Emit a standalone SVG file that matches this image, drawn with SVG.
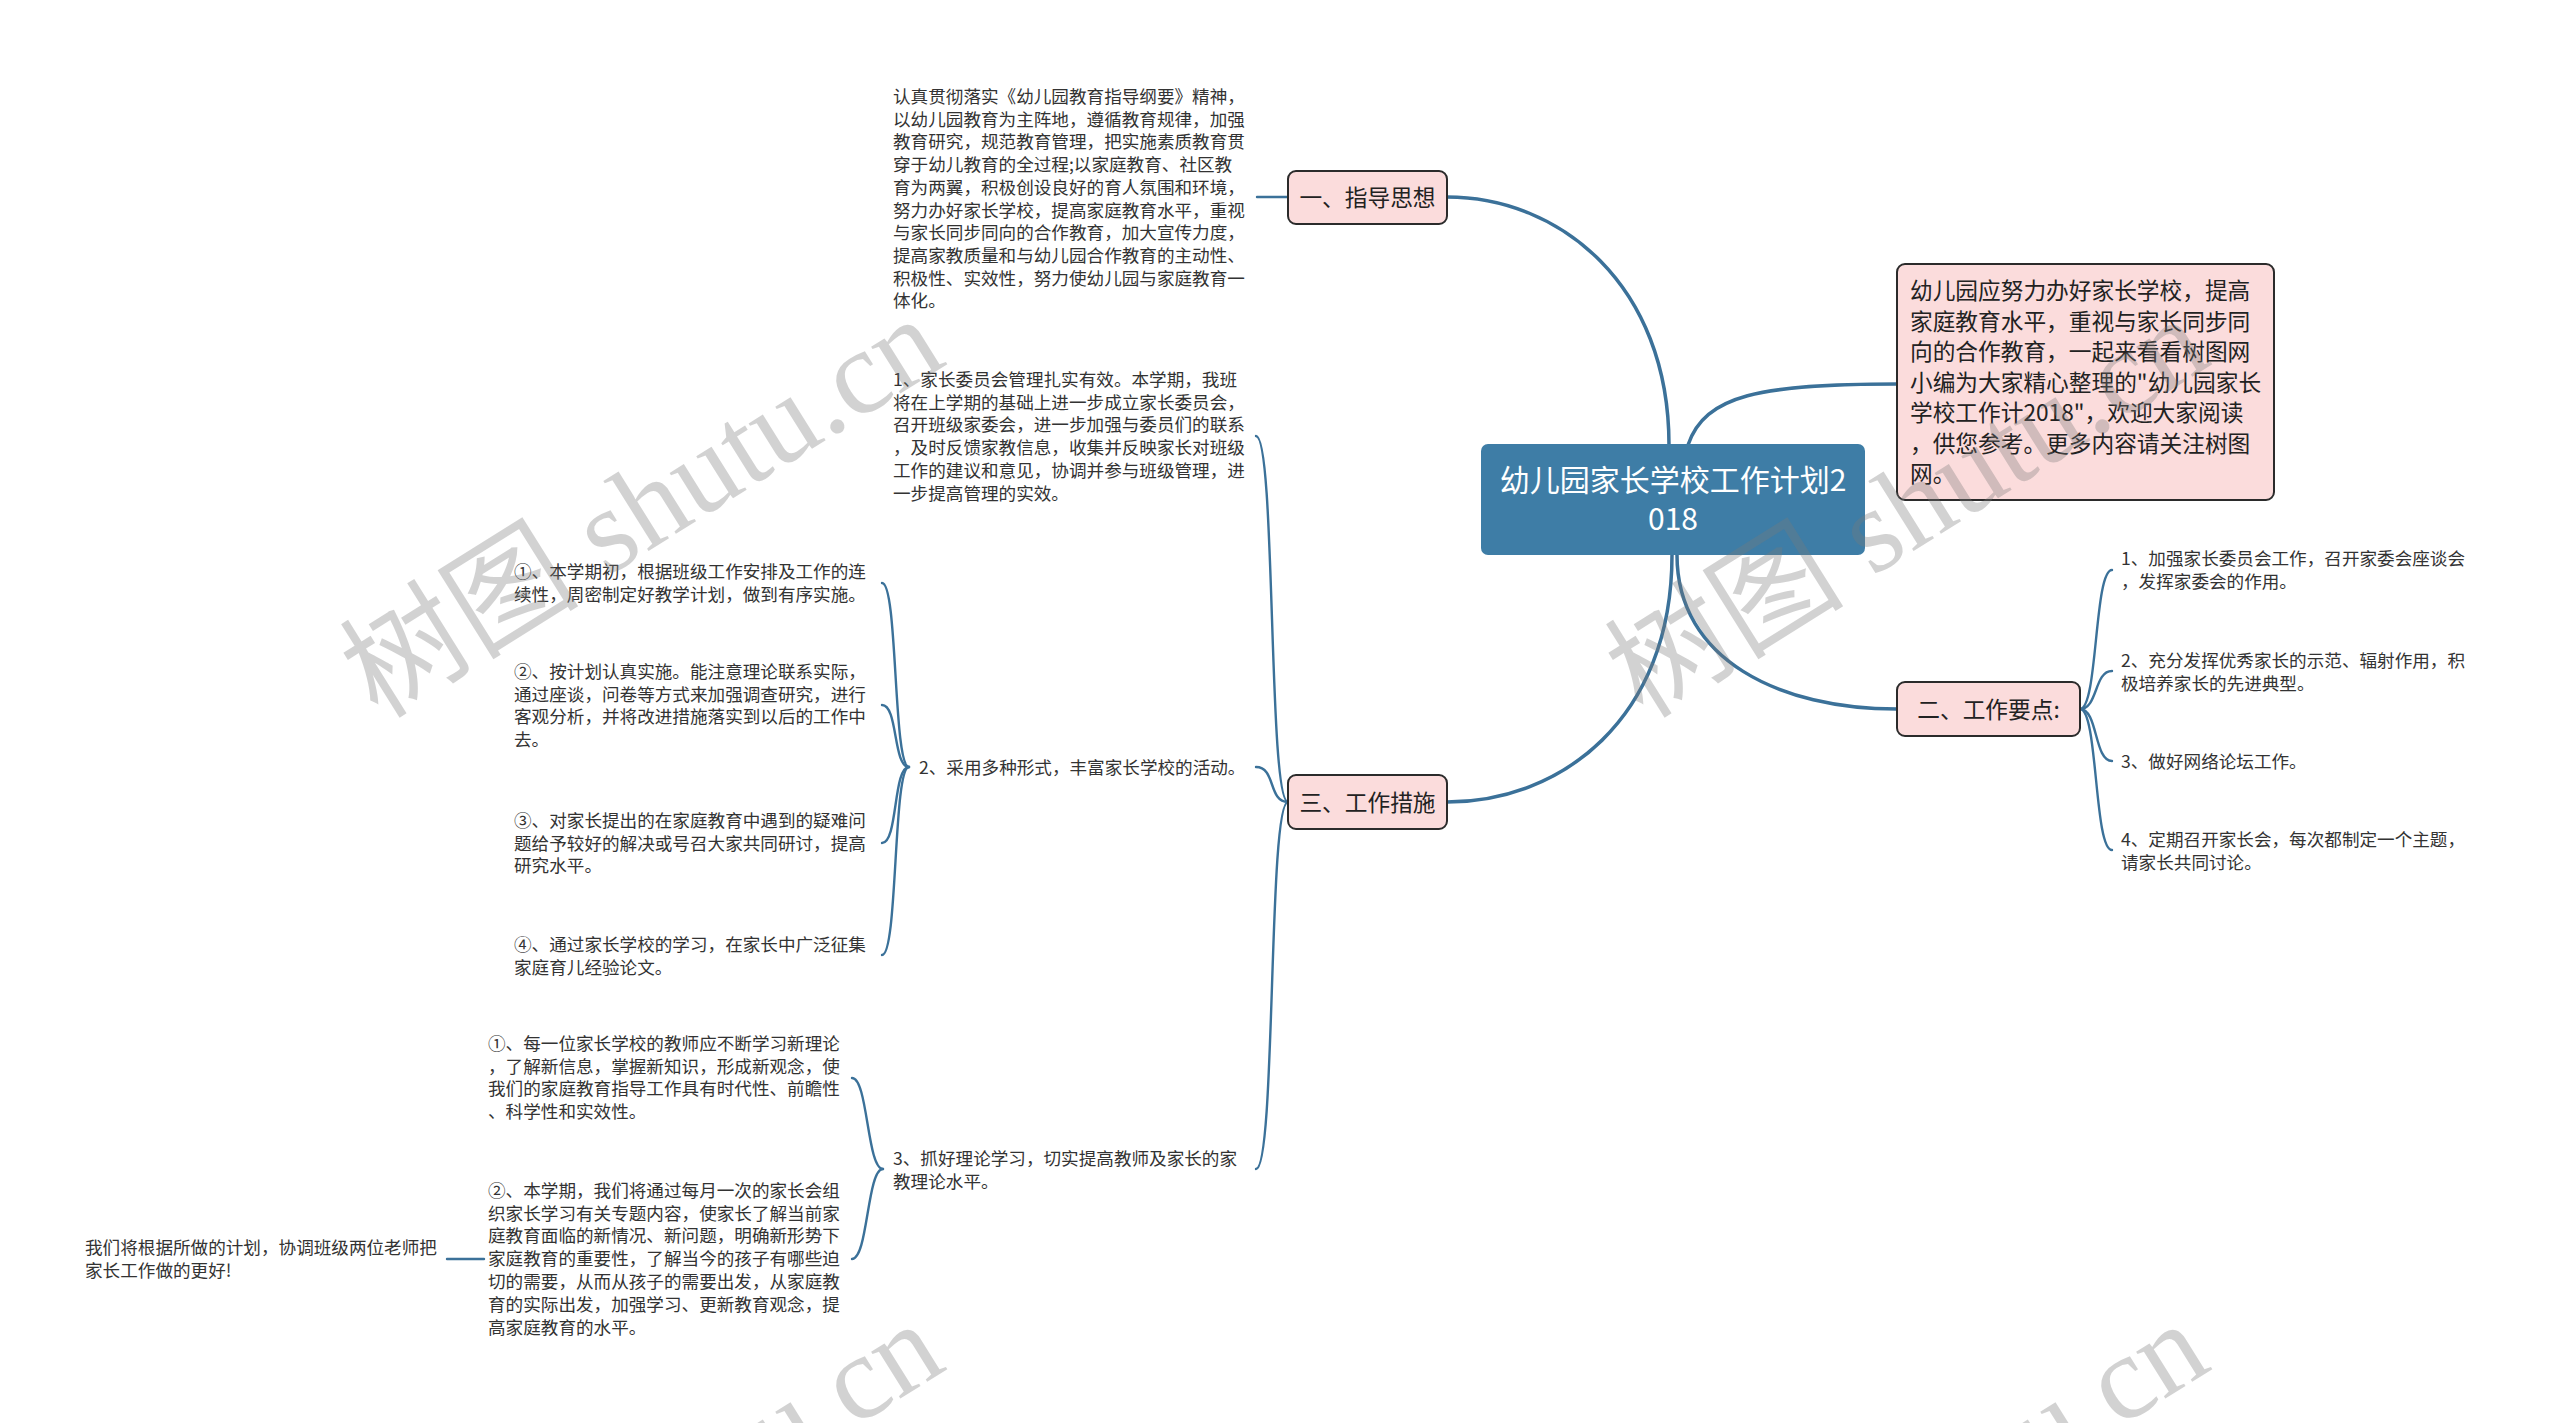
<svg xmlns="http://www.w3.org/2000/svg" width="2560" height="1423" viewBox="0 0 2560 1423">
<style>
.t{font-family:"Noto Sans CJK SC","Noto Sans",sans-serif;font-size:17.6px;fill:#333}
.lbl{font-family:"Noto Sans CJK SC","Noto Sans",sans-serif;font-size:22.7px;fill:#222}
.ctr{font-family:"Noto Sans CJK SC","Noto Sans",sans-serif;font-size:30px;fill:#fff}
.box{fill:#fbdcdc;stroke:#2b2b2b;stroke-width:2}
.main{fill:none;stroke:#3b7199;stroke-width:3.5;stroke-linecap:round}
.sub{fill:none;stroke:#3b7199;stroke-width:2.4;stroke-linecap:round}
.wm{font-size:120px;fill:#7a7a7a;opacity:0.33}
</style>
<rect width="2560" height="1423" fill="#fff"/>
<g id="connectors">
<path class="main" d="M1669 445 C1669 285 1560 197 1447 197"/>
<path class="main" d="M1688 445 C1705 395 1760 384 1897 384"/>
<path class="main" d="M1677 555 C1677 660 1780 709 1897 709"/>
<path class="main" d="M1672 555 C1672 720 1560 802 1447 802"/>
<path class="sub" d="M1288 197 L1257 197"/>
<path class="sub" d="M2080 709 C2098 709 2094 570 2112 570"/>
<path class="sub" d="M2080 709 C2098 709 2094 671 2112 671"/>
<path class="sub" d="M2080 709 C2098 709 2094 761 2112 761"/>
<path class="sub" d="M2080 709 C2098 709 2094 850 2112 850"/>
<path class="sub" d="M1288 802 C1268 802 1276 436 1256 436"/>
<path class="sub" d="M1288 802 C1268 802 1276 767 1256 767"/>
<path class="sub" d="M1288 802 C1268 802 1276 1169 1256 1169"/>
<path class="sub" d="M909 767 C893 767 898 583 882 583"/>
<path class="sub" d="M909 767 C893 767 898 705 882 705"/>
<path class="sub" d="M909 767 C893 767 898 843 882 843"/>
<path class="sub" d="M909 767 C893 767 898 955 882 955"/>
<path class="sub" d="M883 1169 C867 1169 868 1078 852 1078"/>
<path class="sub" d="M883 1169 C867 1169 868 1259 852 1259"/>
<path class="sub" d="M484 1259 L447 1259"/>
</g>
<g id="center">
<rect x="1481" y="444" width="384" height="111" rx="7" fill="#3e7da6"/>
<text class="ctr" text-anchor="middle"><tspan x="1673" y="491.4">幼儿园家长学校工作计划2</tspan><tspan x="1673" y="530.4">018</tspan></text>
</g>
<g id="intro">
<rect class="box" x="1897" y="264" width="377" height="236" rx="8"/>
<text class="lbl" x="1910" y="299.2"><tspan x="1910">幼儿园应努力办好家长学校，提高</tspan><tspan x="1910" dy="30.5">家庭教育水平，重视与家长同步同</tspan><tspan x="1910" dy="30.5">向的合作教育，一起来看看树图网</tspan><tspan x="1910" dy="30.5">小编为大家精心整理的"幼儿园家长</tspan><tspan x="1910" dy="30.5">学校工作计2018"，欢迎大家阅读</tspan><tspan x="1910" dy="30.5">，供您参考。更多内容请关注树图</tspan><tspan x="1910" dy="30.5">网。</tspan></text>
</g>
<g id="n1">
<rect class="box" x="1288" y="171" width="159" height="53" rx="8"/>
<text class="lbl" x="1367.5" y="206.1" text-anchor="middle">一、指导思想</text>
</g>
<g id="n1-text">
<text class="t" x="893" y="103"><tspan x="893">认真贯彻落实《幼儿园教育指导纲要》精神，</tspan><tspan x="893" dy="22.7">以幼儿园教育为主阵地，遵循教育规律，加强</tspan><tspan x="893" dy="22.7">教育研究，规范教育管理，把实施素质教育贯</tspan><tspan x="893" dy="22.7">穿于幼儿教育的全过程;以家庭教育、社区教</tspan><tspan x="893" dy="22.7">育为两翼，积极创设良好的育人氛围和环境，</tspan><tspan x="893" dy="22.7">努力办好家长学校，提高家庭教育水平，重视</tspan><tspan x="893" dy="22.7">与家长同步同向的合作教育，加大宣传力度，</tspan><tspan x="893" dy="22.7">提高家教质量和与幼儿园合作教育的主动性、</tspan><tspan x="893" dy="22.7">积极性、实效性，努力使幼儿园与家庭教育一</tspan><tspan x="893" dy="22.7">体化。</tspan></text>
</g>
<g id="n2">
<rect class="box" x="1897" y="682" width="183" height="54" rx="8"/>
<text class="lbl" x="1988.5" y="717.6" text-anchor="middle">二、工作要点:</text>
</g>
<g id="n2-1"><text class="t" x="2121" y="564.7"><tspan x="2121">1、加强家长委员会工作，召开家委会座谈会</tspan><tspan x="2121" dy="22.8">，发挥家委会的作用。</tspan></text></g>
<g id="n2-2"><text class="t" x="2121" y="666.7"><tspan x="2121">2、充分发挥优秀家长的示范、辐射作用，积</tspan><tspan x="2121" dy="22.8">极培养家长的先进典型。</tspan></text></g>
<g id="n2-3"><text class="t" x="2121" y="767.7">3、做好网络论坛工作。</text></g>
<g id="n2-4"><text class="t" x="2121" y="845.7"><tspan x="2121">4、定期召开家长会，每次都制定一个主题，</tspan><tspan x="2121" dy="22.8">请家长共同讨论。</tspan></text></g>
<g id="n3">
<rect class="box" x="1288" y="775" width="159" height="54" rx="8"/>
<text class="lbl" x="1367.5" y="810.6" text-anchor="middle">三、工作措施</text>
</g>
<g id="n3-1"><text class="t" x="893" y="385.7"><tspan x="893">1、家长委员会管理扎实有效。本学期，我班</tspan><tspan x="893" dy="22.8">将在上学期的基础上进一步成立家长委员会，</tspan><tspan x="893" dy="22.8">召开班级家委会，进一步加强与委员们的联系</tspan><tspan x="893" dy="22.8">，及时反馈家教信息，收集并反映家长对班级</tspan><tspan x="893" dy="22.8">工作的建议和意见，协调并参与班级管理，进</tspan><tspan x="893" dy="22.8">一步提高管理的实效。</tspan></text></g>
<g id="n3-2"><text class="t" x="919" y="773.7">2、采用多种形式，丰富家长学校的活动。</text></g>
<g id="n3-2-1"><text class="t" x="514" y="577.7"><tspan x="514">①、本学期初，根据班级工作安排及工作的连</tspan><tspan x="514" dy="22.8">续性，周密制定好教学计划，做到有序实施。</tspan></text></g>
<g id="n3-2-2"><text class="t" x="514" y="677.7"><tspan x="514">②、按计划认真实施。能注意理论联系实际，</tspan><tspan x="514" dy="22.8">通过座谈，问卷等方式来加强调查研究，进行</tspan><tspan x="514" dy="22.8">客观分析，并将改进措施落实到以后的工作中</tspan><tspan x="514" dy="22.8">去。</tspan></text></g>
<g id="n3-2-3"><text class="t" x="514" y="826.7"><tspan x="514">③、对家长提出的在家庭教育中遇到的疑难问</tspan><tspan x="514" dy="22.8">题给予较好的解决或号召大家共同研讨，提高</tspan><tspan x="514" dy="22.8">研究水平。</tspan></text></g>
<g id="n3-2-4"><text class="t" x="514" y="950.7"><tspan x="514">④、通过家长学校的学习，在家长中广泛征集</tspan><tspan x="514" dy="22.8">家庭育儿经验论文。</tspan></text></g>
<g id="n3-3"><text class="t" x="893" y="1164.7"><tspan x="893">3、抓好理论学习，切实提高教师及家长的家</tspan><tspan x="893" dy="22.8">教理论水平。</tspan></text></g>
<g id="n3-3-1"><text class="t" x="488" y="1049.7"><tspan x="488">①、每一位家长学校的教师应不断学习新理论</tspan><tspan x="488" dy="22.8">，了解新信息，掌握新知识，形成新观念，使</tspan><tspan x="488" dy="22.8">我们的家庭教育指导工作具有时代性、前瞻性</tspan><tspan x="488" dy="22.8">、科学性和实效性。</tspan></text></g>
<g id="n3-3-2"><text class="t" x="488" y="1196.7"><tspan x="488">②、本学期，我们将通过每月一次的家长会组</tspan><tspan x="488" dy="22.8">织家长学习有关专题内容，使家长了解当前家</tspan><tspan x="488" dy="22.8">庭教育面临的新情况、新问题，明确新形势下</tspan><tspan x="488" dy="22.8">家庭教育的重要性，了解当今的孩子有哪些迫</tspan><tspan x="488" dy="22.8">切的需要，从而从孩子的需要出发，从家庭教</tspan><tspan x="488" dy="22.8">育的实际出发，加强学习、更新教育观念，提</tspan><tspan x="488" dy="22.8">高家庭教育的水平。</tspan></text></g>
<g id="n3-3-2-1"><text class="t" x="85" y="1253.7"><tspan x="85">我们将根据所做的计划，协调班级两位老师把</tspan><tspan x="85" dy="22.8">家长工作做的更好!</tspan></text></g>
<g id="watermarks">
<text class="wm" transform="translate(378 720) rotate(-32)"><tspan font-family="Noto Sans CJK SC,sans-serif">树图</tspan><tspan font-family="Liberation Serif,serif"> shutu.cn</tspan></text>
<text class="wm" transform="translate(1643 720) rotate(-32)"><tspan font-family="Noto Sans CJK SC,sans-serif">树图</tspan><tspan font-family="Liberation Serif,serif"> shutu.cn</tspan></text>
<text class="wm" transform="translate(378 1725) rotate(-32)"><tspan font-family="Noto Sans CJK SC,sans-serif">树图</tspan><tspan font-family="Liberation Serif,serif"> shutu.cn</tspan></text>
<text class="wm" transform="translate(1643 1725) rotate(-32)"><tspan font-family="Noto Sans CJK SC,sans-serif">树图</tspan><tspan font-family="Liberation Serif,serif"> shutu.cn</tspan></text>
</g>
</svg>
